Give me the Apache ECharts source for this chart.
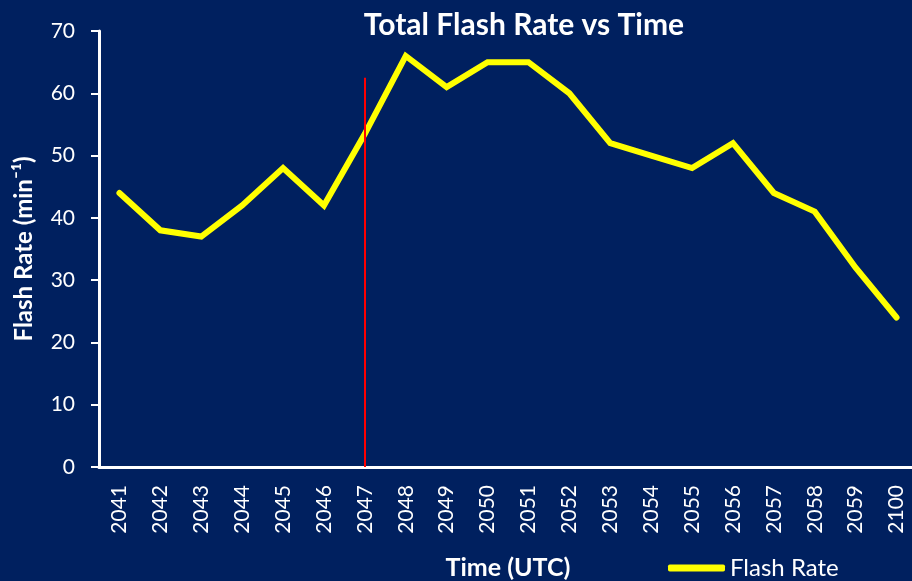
<!DOCTYPE html>
<html>
<head>
<meta charset="utf-8">
<script src="https://cdn.jsdelivr.net/npm/echarts@6/dist/echarts.min.js"></script>
<style>
  html, body { margin: 0; padding: 0; background: #00205F; }
  #chart { width: 912px; height: 581px; }
</style>
</head>
<body>
<div id="chart"></div>
<script>
// 时间 (UTC)
var times = ['2041', '2042', '2043', '2044', '2045', '2046', '2047', '2048', '2049', '2050',
             '2051', '2052', '2053', '2054', '2055', '2056', '2057', '2058', '2059', '2100'];
// 闪电频率 (min-1)
var flashRate = [44, 38, 37, 42, 48, 42, 53.5, 66, 61, 65, 65, 60, 52, 50, 48, 52, 44, 41, 32, 24];
// 红色标记线
var markTime = '2047';
var markTop = 62.5;

var font = 'Lato, "Open Sans", sans-serif';
var myChart = echarts.init(document.getElementById('chart'));
myChart.setOption({
    backgroundColor: '#00205F',
    animation: false,
    title: {
        text: 'Total Flash Rate vs Time',
        left: 519,
        top: 5,
        textAlign: 'center',
        textStyle: { color: '#fff', fontSize: 30, fontWeight: 'bold', fontFamily: font }
    },
    legend: {
        data: ['Flash Rate'],
        left: 663,
        top: 551,
        icon: 'roundRect',
        itemWidth: 57,
        itemHeight: 7,
        itemGap: 3,
        textStyle: { color: '#fff', fontSize: 24, fontFamily: font }
    },
    grid: { left: 99, top: 31, width: 818, height: 436, outerBoundsMode: 'none' },
    xAxis: {
        type: 'category',
        data: times,
        boundaryGap: true,
        name: 'Time (UTC)',
        nameLocation: 'middle',
        nameGap: 88,
        nameTextStyle: { color: '#fff', fontSize: 25, fontWeight: 'bold', fontFamily: font },
        axisLine: { lineStyle: { color: '#fff', width: 3 } },
        axisTick: { show: false },
        axisLabel: { rotate: 90, color: '#fff', fontSize: 21, fontFamily: font, margin: 18, interval: 0 }
    },
    yAxis: {
        type: 'value',
        min: 0,
        max: 70,
        interval: 10,
        name: 'Flash Rate (min\u207B\u00B9)',
        nameLocation: 'middle',
        nameGap: 63,
        nameRotate: 90,
        nameTextStyle: { color: '#fff', fontSize: 24, fontWeight: 'bold', fontFamily: font },
        axisLine: { show: true, lineStyle: { color: '#fff', width: 3 } },
        axisTick: { show: true, length: 8, lineStyle: { color: '#fff', width: 2 } },
        axisLabel: { color: '#fff', fontSize: 21, fontFamily: font, margin: 24 },
        splitLine: { show: false }
    },
    series: [
        {
            name: 'Flash Rate',
            type: 'line',
            data: flashRate,
            symbol: 'none',
            lineStyle: { color: '#FFFF00', width: 6, cap: 'round', join: 'miter' },
            itemStyle: { color: '#FFFF00' },
            markLine: {
                silent: true,
                symbol: 'none',
                label: { show: false },
                lineStyle: { color: '#FF0000', width: 2, type: 'solid' },
                data: [[{ coord: [markTime, 0] }, { coord: [markTime, markTop] }]]
            }
        }
    ]
});
</script>
</body>
</html>
